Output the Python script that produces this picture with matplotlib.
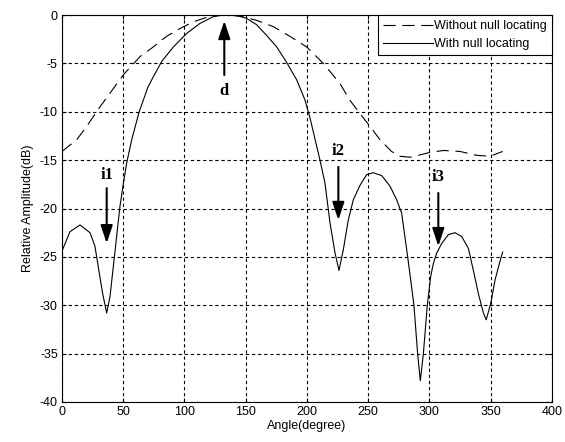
import matplotlib
matplotlib.use("Agg")
import matplotlib.pyplot as plt

# with null locating (solid)
ang_null = [0, 6.5, 14.7, 22.9, 26.9, 29.6, 33.2, 36.5, 39.2, 41.9, 44.6, 47.3, 50, 52.8,
            56.9, 63, 66.4, 70, 74.5, 81.4, 90.9, 101.8, 112.7, 123.5, 132, 142.6, 150.7,
            158.9, 167, 175.3, 183.4, 191.6, 198.4, 202.4, 206.5, 210.6, 214.7, 218.8,
            222.9, 226.1, 229.6, 233.7, 237.8, 243.3, 248.7, 254.1, 261, 267.8, 273.2,
            277.3, 282.2, 287.3, 290.3, 292.5, 295, 298.2, 301, 303.1, 305.9, 310, 315.4,
            320.8, 326.3, 331.7, 335.8, 339.9, 344, 346.3, 350, 353.5, 357, 359.7]
amp_null = [-24.4, -22.4, -21.7, -22.5, -23.9, -26.0, -28.8, -30.8, -29.1, -26.0, -22.9,
            -19.8, -17.5, -15.3, -12.9, -10.0, -8.8, -7.5, -6.4, -4.8, -3.3, -1.9, -0.86,
            -0.17, 0, 0, -0.35, -1.0, -2.1, -3.3, -4.9, -6.7, -8.8, -10.6, -12.8, -15.0,
            -17.4, -21.5, -24.6, -26.4, -24.3, -21.2, -19.1, -17.6, -16.5, -16.3, -16.6,
            -17.7, -19.1, -20.5, -25.0, -30.0, -35.0, -37.8, -35.0, -30.0, -27.0, -25.7,
            -24.6, -23.6, -22.7, -22.5, -22.9, -24.1, -26.4, -28.8, -30.8, -31.5, -29.8,
            -27.4, -25.7, -24.5]

# without null locating (dashed)
ang_plain = [0, 12, 20.2, 31, 41.9, 50.6, 63.7, 74.5, 85.4, 96.3, 107.2, 118, 125, 132,
             140, 147.8, 158.9, 172.5, 186, 199.7, 213.3, 227, 235, 243.3, 251.4, 259.6,
             269, 275.9, 284, 290.9, 300.4, 311.3, 324.9, 338.5, 349.4, 359.7]
amp_plain = [-14.1, -12.9, -11.5, -9.5, -7.6, -6.1, -4.3, -3.3, -2.2, -1.4, -0.7, -0.25,
             -0.05, 0, -0.05, -0.2, -0.55, -1.2, -2.2, -3.3, -5.0, -7.1, -8.8, -10.2,
             -11.5, -12.9, -14.1, -14.6, -14.7, -14.5, -14.2, -14.0, -14.1, -14.5, -14.6,
             -14.1]

# annotations: label, x, arrow tail, arrow tip, text y
marks = [("d", 132.5, -6.2, -0.6, -7.9),
         ("i1", 36.5, -17.9, -23.6, -16.5),
         ("i2", 225.6, -15.7, -21.2, -14.1),
         ("i3", 307.2, -18.4, -23.9, -16.7)]

plt.rcParams['font.family'] = ['Liberation Sans', 'DejaVu Sans']
plt.rcParams['font.size'] = 9
plt.rcParams['axes.unicode_minus'] = False

fig = plt.figure(figsize=(5.65, 4.42), dpi=100)
ax = fig.add_axes([0.1097, 0.0905, 0.8673, 0.8755])

ax.plot(ang_plain, amp_plain, color='black', lw=0.8, ls=(0, (11, 6)),
        label='Without null locating')
ax.plot(ang_null, amp_null, color='black', lw=0.8, label='With null locating')

for name, x, tail, tip, ty in marks:
    ax.annotate('', xy=(x, tip), xytext=(x, tail),
                arrowprops=dict(arrowstyle='-|>,head_length=0.9,head_width=0.3',
                                mutation_scale=12, lw=1.5, color='black',
                                shrinkA=0, shrinkB=0))
    ax.text(x, ty, name, ha='center', va='center', fontsize=12, fontweight='bold',
            family='Liberation Serif')

ax.set_xlim(0, 400)
ax.set_ylim(-40, 0)
ax.set_xticks(range(0, 401, 50))
ax.set_yticks(range(-40, 1, 5))
ax.grid(True, color='black', lw=0.8, ls=(0, (3, 2.5)))
ax.tick_params(direction='in', length=3, top=True, right=True, pad=3)
for sp in ax.spines.values():
    sp.set_linewidth(0.8)

ax.set_xlabel('Angle(degree)', labelpad=1)
ax.set_ylabel('Relative Amplitude(dB)', labelpad=4)

leg = ax.legend(loc='upper right', borderaxespad=0, fancybox=False, edgecolor='black',
                framealpha=1, handlelength=4, handletextpad=0.1, fontsize=9)
leg.get_frame().set_linewidth(0.8)

fig.savefig('out.png', dpi=100)
